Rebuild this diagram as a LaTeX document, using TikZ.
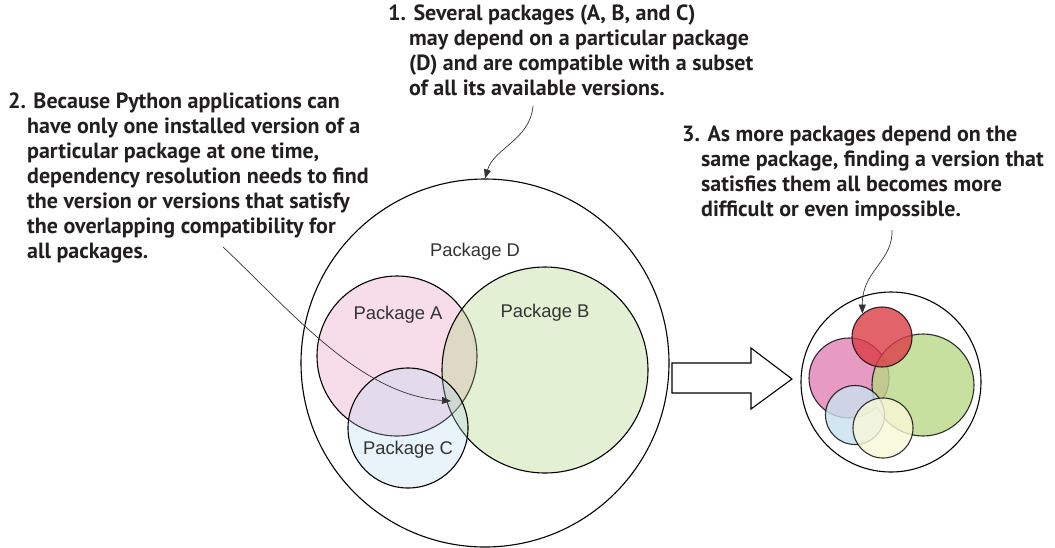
\documentclass[tikz,border=0pt]{standalone}
\usepackage{fontspec}
\setmainfont{Liberation Sans}
\newfontfamily\notefont{PT Sans}
\usetikzlibrary{arrows.meta}

\definecolor{notetext}{HTML}{231F20}
\definecolor{pkgtext}{HTML}{333333}
\definecolor{fillA}{RGB}{232,150,190}
\definecolor{fillB}{RGB}{170,210,120}
\definecolor{fillC}{RGB}{180,215,240}
\definecolor{dotRed}{RGB}{220,60,70}
\definecolor{dotPink}{RGB}{225,130,180}
\definecolor{dotGreen}{RGB}{185,215,135}
\definecolor{dotBlue}{RGB}{200,225,240}
\definecolor{dotYellow}{RGB}{248,248,215}

\tikzset{
  note/.style={anchor=north west, inner sep=0pt, align=left, text=notetext,
               font=\notefont\bfseries\fontsize{22}{25}\selectfont},
  pkg/.style={circle, draw, line width=1.1pt, inner sep=0pt},
  pkglbl/.style={font=\fontsize{18.4}{20}\selectfont, text=pkgtext},
  callout/.style={-{Triangle[length=9pt,width=7pt]}, line width=0.7pt, draw=black!80}
}

\begin{document}
\begin{tikzpicture}[x=1pt, y=-1pt]
\useasboundingbox (0,0) rectangle (1055,547);

% the notes
\node[note] (note1) at (388,5) {1. Several packages (A, B, and C)\\
  \hspace*{21pt}may depend on a particular package\\
  \hspace*{21pt}(D) and are compatible with a subset\\
  \hspace*{21pt}of all its available versions.};
\node[note] (note2) at (8,93) {2. Because Python applications can\\
  \hspace*{19pt}have only one installed version of a\\
  \hspace*{19pt}particular package at one time,\\
  \hspace*{19pt}dependency resolution needs to find\\
  \hspace*{19pt}the version or versions that satisfy\\
  \hspace*{19pt}the overlapping compatibility for\\
  \hspace*{19pt}all packages.};
\node[note] (note3) at (682,126) {3. As more packages depend on the\\
  \hspace*{19pt}same package, finding a version that\\
  \hspace*{19pt}satisfies them all becomes more\\
  \hspace*{19pt}difficult or even impossible.};

% package D and its dependents
\node[pkg, minimum size=368pt] (pkgD) at (485,363) {};
\node[pkg, minimum size=160pt, fill=fillA, fill opacity=0.33, text opacity=1] (pkgA) at (397,356) {};
\node[pkg, minimum size=206pt, fill=fillB, fill opacity=0.33, text opacity=1] (pkgB) at (545,370) {};
\node[pkg, minimum size=120pt, fill=fillC, fill opacity=0.3, text opacity=1] (pkgC) at (408,428) {};

\node[pkglbl] (lblD) at (475,252) {Package D};
\node[pkglbl] (lblA) at (398,315) {Package A};
\node[pkglbl] (lblB) at (545,313) {Package B};
\node[pkglbl] (lblC) at (408,450) {Package C};

% block arrow
\draw[line width=1.1pt, fill=white] (672,363) -- (751,363) -- (751,348) -- (792,379)
  -- (751,409) -- (751,393) -- (672,393) -- cycle;

% crowded group
\node[pkg, minimum size=180pt] (grpAll) at (891,382) {};
\begin{scope}[opacity=0.8]
\node[pkg, minimum size=80pt, fill=dotPink] (grpPink) at (849,378) {};
\node[pkg, minimum size=102pt, fill=dotGreen] (grpGreen) at (923,385) {};
\node[pkg, minimum size=60pt, fill=dotRed] (grpRed) at (882,337) {};
\node[pkg, minimum size=59pt, fill=dotBlue] (grpBlue) at (855,415) {};
\node[pkg, minimum size=60pt, fill=dotYellow] (grpYellow) at (883,428) {};
\end{scope}

% callouts
\coordinate (tail1) at (533,106);
\coordinate (tail2) at (223,247);
\coordinate (tail3) at (892,230);
\coordinate (core) at (451,401);
\draw[callout] (tail1) .. controls (530,140) and (494,148) .. (pkgD.north);
\draw[callout] (tail2) .. controls (290,310) and (360,395) .. (core);
\draw[callout] (tail3) .. controls (893,262) and (862,270) .. (grpRed.130);

\end{tikzpicture}
\end{document}
